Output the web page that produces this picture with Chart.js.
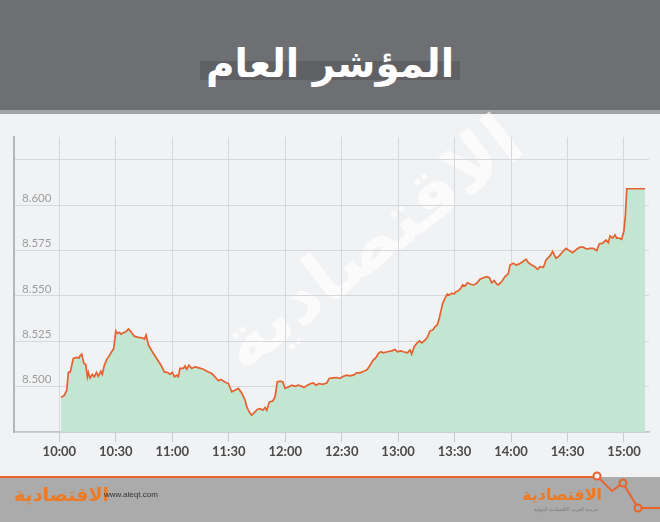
<!DOCTYPE html>
<html>
<head>
<meta charset="utf-8">
<script src="https://cdn.jsdelivr.net/npm/chart.js@4/dist/chart.umd.min.js"></script>
<style>
body{margin:0;width:660px;height:522px;background:#f1f2f4;position:relative;overflow:hidden;font-family:Lato,sans-serif;}
#header{position:absolute;left:0;top:0;width:660px;height:110px;background:#6e6f73;border-bottom:4px solid #a2a3a6;}
#band{position:absolute;left:200px;top:61px;width:260px;height:19px;background:#5f6064;}
#title{position:absolute;left:0;top:41px;width:660px;text-align:center;color:#fff;font:bold 39px "DejaVu Sans",sans-serif;direction:rtl;}
#watermark{position:absolute;left:190px;top:200px;font:bold 72px "DejaVu Sans",sans-serif;color:rgba(255,255,255,0.7);transform:rotate(-38deg);direction:rtl;white-space:nowrap;}
#chartBox{position:absolute;left:0;top:113px;width:660px;height:357px;}
#footer{position:absolute;left:0;top:477px;width:660px;height:45px;background:#ababab;}
#logoL{position:absolute;left:14px;top:483px;font:bold 19px "DejaVu Sans",sans-serif;color:#ee7a23;direction:rtl;}
#web{position:absolute;left:104px;top:490px;font:8px "Liberation Sans",sans-serif;color:#333;}
#logoR{position:absolute;left:522px;top:485px;font:bold 16px "DejaVu Sans",sans-serif;color:#ee7a23;direction:rtl;}
#sub{position:absolute;left:534px;top:506px;font:5px "DejaVu Sans",sans-serif;color:#777;direction:rtl;}
svg{position:absolute;left:0;top:0;}
</style>
</head>
<body>
<div id="header"></div>
<div id="band"></div>
<div id="title">المؤشر العام</div>
<div id="watermark">الاقتصادية</div>
<div id="chartBox"><canvas id="chart" width="660" height="357"></canvas></div>
<div id="footer"></div>
<svg width="660" height="522">
  <polyline points="0,477 593,477 597,476 612,491 623,483 638,508 660,508" fill="none" stroke="#e8642c" stroke-width="2"/>
  <circle cx="597" cy="476" r="3.5" fill="#f1f2f4" stroke="#e8642c" stroke-width="2"/>
  <circle cx="623" cy="483" r="3.5" fill="#ababab" stroke="#e8642c" stroke-width="2"/>
  <circle cx="638" cy="508" r="3.5" fill="#ababab" stroke="#e8642c" stroke-width="2"/>
</svg>
<div id="logoL">الاقتصادية</div>
<div id="web">www.aleqt.com</div>
<div id="logoR">الاقتصادية</div>
<div id="sub">جريدة العرب الاقتصادية الدولية</div>
<script>
// minutes after 10:00
const minutes = [
  0.9,2.7,3.9,4.8,5.8,6.6,7.4,9.2,10.5,11.0,11.9,12.4,13.1,14.0,14.9,15.4,16.3,17.5,18.6,19.7,
  20.7,22.0,22.8,23.9,25.2,26.4,27.8,28.9,30.0,30.8,31.9,32.8,34.0,35.3,36.7,38.1,39.8,42.0,44.1,45.2,
  46.1,47.3,49.4,51.7,54.0,55.8,57.6,58.8,60.0,61.1,62.4,63.2,64.1,65.9,66.8,67.7,68.9,70.3,72.1,74.2,
  76.5,79.2,81.0,82.7,
  84.5,85.8,88.0,89.8,91.6,93.3,95.1,96.9,98.7,99.6,100.9,102.2,103.4,105.2,106.6,108.1,109.3,110.2,111.6,113.4,
  114.6,115.8,117.3,118.7,119.9,121.7,123.5,125.2,127.0,128.8,130.0,131.8,133.6,134.9,136.4,137.8,139.9,142.1,143.4,145.3,
  147.4,149.1,150.9,152.7,154.4,156.2,158.0,159.8,161.8,
  163.6,165.1,166.8,168.3,169.5,170.8,172.1,174.3,176.6,178.4,179.6,181.4,182.8,184.9,186.3,187.2,188.5,189.9,191.3,192.5,
  194.3,195.5,196.9,198.4,199.6,200.8,201.9,202.6,203.7,204.9,206.1,207.2,208.5,209.7,210.8,212.0,213.3,214.3,215.6,216.8,
  218.2,220.0,221.8,223.5,
  225.3,227.1,228.5,229.7,231.0,232.4,233.2,235.0,236.8,238.5,239.5,241.2,242.6,244.4,246.2,248.0,249.2,251.0,252.7,254.0,
  255.4,257.2,258.6,260.7,262.1,263.9,265.6,267.5,269.2,270.4,272.8,274.9,276.6,278.4,280.2,281.9,283.7,285.5,286.9,288.7,
  290.5,291.7,292.6,294.0,295.2,296.1,297.5,298.8,300.0,300.7,301.5,311.2
];
const values = [
  8.4940,8.4953,8.4980,8.5078,8.5081,8.5118,8.5155,8.5161,8.5158,8.5170,8.5179,8.5155,8.5128,8.5122,8.5054,8.5078,8.5048,8.5067,8.5054,8.5078,
  8.5057,8.5085,8.5067,8.5118,8.5150,8.5168,8.5192,8.5210,8.5306,8.5293,8.5299,8.5289,8.5296,8.5302,8.5317,8.5302,8.5278,8.5271,8.5269,8.5262,
  8.5284,8.5229,8.5192,8.5155,8.5118,8.5081,8.5078,8.5067,8.5078,8.5054,8.5063,8.5054,8.5100,8.5100,8.5114,8.5096,8.5118,8.5100,8.5109,8.5103,
  8.5096,8.5081,8.5072,8.5054,
  8.5032,8.5039,8.5026,8.5017,8.4971,8.4980,8.4990,8.4965,8.4925,8.4888,8.4860,8.4842,8.4855,8.4874,8.4879,8.4870,8.4885,8.4870,8.4916,8.4921,
  8.4943,8.5026,8.5030,8.5026,8.4990,8.4998,8.5008,8.5002,8.5008,8.5002,8.4995,8.5008,8.5017,8.5020,8.5008,8.5017,8.5013,8.5020,8.5045,8.5048,
  8.5050,8.5045,8.5057,8.5063,8.5059,8.5063,8.5076,8.5076,8.5085,
  8.5094,8.5118,8.5146,8.5161,8.5183,8.5192,8.5186,8.5192,8.5197,8.5205,8.5192,8.5197,8.5192,8.5186,8.5201,8.5179,8.5219,8.5238,8.5252,8.5241,
  8.5256,8.5271,8.5306,8.5311,8.5330,8.5339,8.5376,8.5412,8.5459,8.5486,8.5510,8.5505,8.5514,8.5510,8.5523,8.5528,8.5542,8.5560,8.5554,8.5572,
  8.5565,8.5560,8.5569,8.5592,
  8.5600,8.5606,8.5600,8.5572,8.5584,8.5565,8.5560,8.5578,8.5606,8.5621,8.5670,8.5680,8.5670,8.5676,8.5688,8.5702,8.5683,8.5670,8.5661,8.5646,
  8.5661,8.5657,8.5698,8.5720,8.5744,8.5707,8.5720,8.5744,8.5762,8.5753,8.5738,8.5757,8.5768,8.5768,8.5757,8.5762,8.5762,8.5749,8.5786,8.5790,
  8.5808,8.5793,8.5830,8.5818,8.5836,8.5818,8.5818,8.5812,8.5860,8.5937,8.6090,8.6090
];
const timeTicks = [0,30,60,90,120,150,180,210,240,270,300];
const yTicks = [8.475,8.5,8.525,8.55,8.575,8.6,8.625];
const yLabelled = [8.5,8.525,8.55,8.575,8.6];

function clock(m){
    const h = 10 + Math.floor(m/60);
    const mm = m % 60;
    return h + ':' + (mm<10?'0':'') + mm;
}

const gridColor = '#d7d8db';

new Chart(document.getElementById('chart'),{
    type:'line',
    data:{
        datasets:[{
            data:minutes.map((m,i)=>({x:m,y:values[i]})),
            borderColor:'#e5612f',
            borderWidth:1.7,
            backgroundColor:'#c3e6d2',
            fill:'start',
            pointRadius:0,
            tension:0
        }]
    },
    options:{
        responsive:false,
        animation:false,
        events:[],
        layout:{padding:{left:14,right:11,top:24,bottom:8}},
        plugins:{legend:{display:false},tooltip:{enabled:false}},
        scales:{
            x:{
                type:'linear',
                min:-24.1,
                max:313.3,
                afterBuildTicks:s=>{ s.ticks = timeTicks.map(v=>({value:v})); },
                afterFit:s=>{ s.height = 30; },
                grid:{color:gridColor,lineWidth:1,tickLength:10,tickColor:'#c9cacd'},
                border:{color:'#c4c5c8',width:1.5},
                ticks:{
                    autoSkip:false,maxRotation:0,padding:2,
                    color:'#4a4a4a',
                    font:{family:'Lato',size:13,weight:'bold'},
                    callback:v=>clock(v)
                }
            },
            y:{
                min:8.475,
                max:8.6375,
                afterBuildTicks:s=>{ s.ticks = yTicks.map(v=>({value:v})); },
                afterFit:s=>{ s.width = 0; },
                grid:{color:gridColor,lineWidth:1,drawTicks:false},
                border:{color:'#b4b5b8',width:2},
                ticks:{
                    mirror:true,padding:8,labelOffset:-7,
                    color:'#9d9d9d',
                    font:{family:'Lato',size:11.5},
                    callback:v=>yLabelled.some(t=>Math.abs(t-v)<1e-6) ? v.toFixed(3) : ''
                }
            }
        }
    }
});
</script>
</body>
</html>
